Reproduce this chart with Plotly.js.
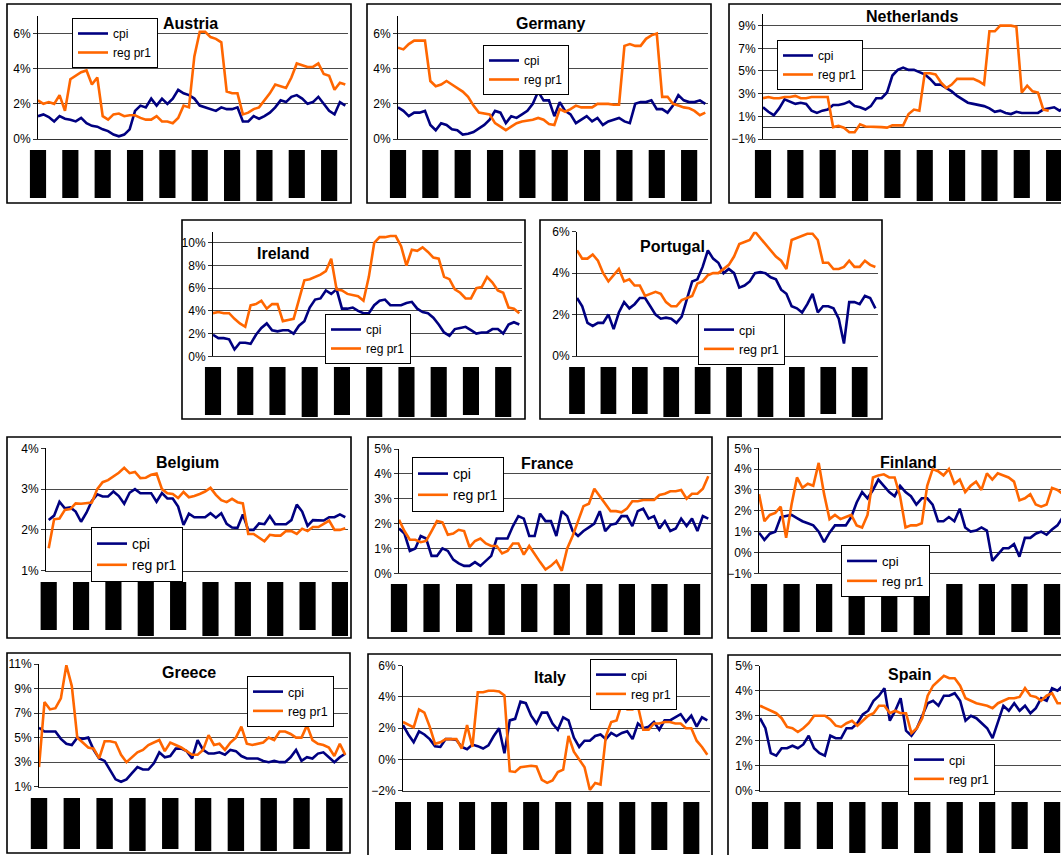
<!DOCTYPE html>
<html><head><meta charset="utf-8">
<script src="https://cdn.plot.ly/plotly-3.0.1.min.js"></script>
<style>html,body{margin:0;padding:0;overflow:hidden;background:#fff}#chart{width:1100px;height:855px}</style>
</head><body><div id="chart"></div>
<script>
// ---- data (percent, y-o-y), sampled every second month ----
const austriaCpi = [1.3,1.4,1.25,1.0,1.3,1.15,1.1,1.0,1.2,0.9,0.75,0.7,0.55,0.45,0.25,0.15,0.25,0.55,1.6,1.9,1.8,2.3,1.9,2.3,2.0,2.3,2.8,2.6,2.5,2.3,1.9,1.8,1.7,1.6,1.8,1.7,1.7,1.8,1.0,1.0,1.3,1.15,1.3,1.5,1.8,2.2,2.1,2.4,2.5,2.3,2.0,2.1,2.4,2.0,1.6,1.4,2.1,1.9];
const austriaReg = [2.2,2.0,2.1,2.0,2.5,1.6,3.4,3.6,3.8,3.9,3.1,3.5,1.3,1.1,1.4,1.45,1.3,1.35,1.35,1.2,1.1,1.1,1.3,1.0,1.0,0.9,1.2,1.9,1.8,4.7,6.1,6.1,5.8,5.7,5.5,2.7,2.6,2.6,1.4,1.5,1.7,1.8,2.2,2.6,3.1,3.0,2.9,3.5,4.3,4.2,4.1,4.1,4.3,3.7,3.6,2.8,3.2,3.1];
const germanyCpi = [1.8,1.6,1.3,1.5,1.5,1.6,0.8,0.5,0.9,0.8,0.55,0.5,0.25,0.3,0.4,0.6,0.8,1.1,1.6,1.5,0.9,1.3,1.2,1.4,1.6,2.0,2.7,2.2,2.2,1.3,2.1,1.6,1.4,0.9,1.1,1.3,1.0,1.2,0.8,1.0,1.1,1.2,1.0,0.9,2.0,2.1,2.1,2.2,1.7,1.7,1.5,1.9,2.5,2.2,2.1,2.1,2.2,2.0];
const germanyReg = [5.2,5.1,5.4,5.6,5.6,5.6,3.3,3.0,3.1,3.3,3.1,2.9,2.7,2.4,1.9,1.5,1.45,1.4,0.9,0.7,0.5,0.7,0.9,1.0,1.05,1.1,1.2,1.1,0.85,0.8,1.7,1.55,1.7,1.9,1.8,1.8,1.8,2.0,2.0,2.0,1.95,1.95,5.3,5.4,5.3,5.3,5.7,5.9,6.0,2.4,2.4,2.0,1.9,1.8,1.75,1.6,1.35,1.5];
const netherlandsCpi = [1.8,1.4,1.1,1.7,2.5,2.3,2.1,2.2,2.1,1.5,1.3,1.5,1.6,2.0,2.0,2.1,2.3,1.9,1.8,1.6,1.9,2.6,2.6,3.1,4.6,5.1,5.3,5.1,5.1,4.9,4.7,4.3,3.8,3.8,3.5,3.2,2.8,2.5,2.2,2.1,2.0,1.9,1.7,1.4,1.5,1.3,1.2,1.4,1.3,1.3,1.3,1.3,1.6,1.7,1.8,1.5,1.8];
const netherlandsReg = [2.6,2.7,2.6,2.6,2.7,2.7,2.8,2.6,2.6,2.7,2.7,2.7,2.7,0.05,0.15,0.0,-0.4,-0.4,0.3,0.1,0.1,0.1,0.05,0.0,0.2,0.2,0.2,1.2,1.6,1.5,4.8,4.8,4.7,4.0,3.5,3.8,4.3,4.3,4.3,4.3,4.1,3.8,8.5,8.5,9.0,9.0,9.0,8.9,3.1,3.7,3.2,3.1,1.6,1.5];
const irelandCpi = [1.9,1.6,1.6,1.5,0.6,1.2,1.2,1.1,1.9,2.5,2.9,2.3,2.2,2.3,2.3,2.0,2.7,3.1,4.3,5.0,5.1,5.8,5.5,5.9,4.2,4.2,4.3,4.0,3.8,3.8,4.5,4.9,5.0,4.5,4.5,4.5,4.7,4.8,4.2,3.9,3.8,3.4,2.8,2.1,1.8,2.4,2.5,2.6,2.3,2.0,2.1,2.1,2.4,2.4,2.0,2.8,3.0,2.8];
const irelandReg = [3.8,3.9,3.8,3.8,3.3,2.9,2.6,4.5,4.6,4.9,4.2,4.6,4.6,3.1,3.2,3.3,5.0,6.7,6.8,7.0,7.2,7.5,8.6,5.9,5.8,5.5,5.4,5.3,4.9,7.0,10.0,10.5,10.5,10.6,10.6,9.7,8.0,9.4,9.3,9.6,9.2,8.7,8.6,7.0,6.8,5.9,5.6,5.1,5.1,6.0,6.1,7.0,6.5,5.8,5.6,4.3,4.2,3.8];
const portugalCpi = [2.8,2.4,1.6,1.45,1.6,1.6,2.0,1.3,2.1,2.6,2.3,2.5,2.8,2.8,2.4,2.0,1.8,1.85,1.8,1.6,1.9,2.8,3.6,3.7,4.3,5.1,4.7,4.5,4.0,4.2,4.0,3.3,3.4,3.6,4.0,4.05,4.0,3.8,3.7,3.2,3.0,2.4,2.3,2.1,2.5,3.0,2.1,2.4,2.4,2.3,1.8,0.6,2.6,2.6,2.5,2.9,2.8,2.3];
const portugalReg = [5.1,4.7,4.7,4.9,4.6,4.0,3.6,3.9,4.2,3.6,3.7,3.4,3.4,2.9,3.0,3.1,3.0,2.6,2.4,2.4,2.7,2.8,2.9,3.5,3.6,3.9,4.0,4.0,4.2,4.4,4.8,5.4,5.5,5.6,6.0,5.7,5.4,5.1,4.8,4.6,4.2,5.6,5.7,5.8,5.9,5.9,5.6,4.5,4.5,4.2,4.2,4.3,4.6,4.3,4.3,4.6,4.4,4.3];
const belgiumCpi = [2.24,2.35,2.69,2.53,2.55,2.45,2.2,2.42,2.71,2.87,2.82,2.82,2.94,2.83,2.64,2.91,3.0,2.9,2.9,2.9,2.69,2.9,2.77,2.77,2.57,2.12,2.4,2.31,2.31,2.31,2.41,2.3,2.41,2.15,2.06,2.05,2.38,2.0,2.0,2.16,2.14,2.34,2.14,2.14,2.14,2.24,2.62,2.45,2.1,2.24,2.24,2.23,2.31,2.31,2.38,2.31];
const belgiumReg = [1.55,2.26,2.28,2.49,2.51,2.65,2.64,2.65,2.67,3.0,3.17,3.22,3.3,3.4,3.52,3.39,3.42,3.27,3.28,3.35,3.38,3.0,2.9,2.88,2.78,2.93,2.8,2.83,2.88,2.94,3.03,2.86,2.73,2.68,2.76,2.68,2.65,1.9,1.9,1.8,1.72,1.88,1.86,1.86,1.97,1.97,1.9,2.03,1.97,2.07,2.07,2.15,2.23,2.0,2.0,2.04];
const franceCpi = [1.8,1.6,0.9,1.0,1.5,1.4,0.7,0.7,1.0,0.9,0.55,0.4,0.3,0.3,0.45,0.3,0.5,0.7,1.4,1.4,1.4,1.9,2.3,2.2,1.5,1.5,2.4,2.1,2.1,1.5,2.5,2.3,1.7,1.5,1.7,1.85,2.0,2.5,1.7,1.95,2.0,2.3,2.3,1.9,2.5,2.6,2.2,2.3,1.8,2.1,1.7,1.8,2.2,1.9,2.2,1.7,2.3,2.2];
const franceReg = [2.15,1.7,1.35,1.35,1.25,1.3,1.7,2.1,2.05,1.55,1.6,1.75,1.7,1.05,1.3,1.4,1.2,1.1,1.1,0.8,0.9,1.2,1.2,0.75,1.1,0.75,0.45,0.15,0.3,0.5,0.1,1.0,1.5,2.1,2.7,2.8,3.4,3.1,2.8,2.5,2.5,2.45,2.6,2.9,2.9,2.95,2.95,2.95,3.15,3.2,3.3,3.3,3.35,3.0,3.2,3.2,3.4,3.9];
const finlandCpi = [0.95,0.6,0.9,1.0,1.7,1.75,1.8,1.65,1.5,1.4,1.3,1.0,0.5,0.95,1.3,1.3,1.3,1.7,2.4,2.9,2.6,3.0,3.5,3.2,2.9,2.7,3.2,2.9,2.7,2.3,2.6,2.6,2.3,1.5,1.5,1.7,1.5,2.1,1.2,1.0,1.05,1.2,1.05,-0.4,-0.1,0.2,0.2,0.4,-0.2,0.7,0.7,0.9,1.0,0.85,1.1,1.3,1.7];
const finlandReg = [2.8,1.5,1.8,1.9,2.2,0.7,2.3,3.6,3.1,3.3,3.2,4.3,2.8,1.6,1.8,1.6,1.7,1.8,1.3,1.2,1.8,3.6,3.7,3.75,3.6,3.6,2.7,1.2,1.3,1.3,1.4,3.2,4.0,3.9,3.7,4.0,3.3,3.5,2.9,3.2,3.4,3.0,3.8,3.5,3.8,3.7,3.6,3.4,2.5,2.6,2.8,2.3,2.2,2.3,3.1,3.0,2.8];
const greeceCpi = [5.8,5.5,5.5,5.5,4.9,4.5,4.4,5.0,4.9,5.0,4.0,3.3,3.1,2.4,1.6,1.4,1.6,2.1,2.6,2.4,2.4,2.9,3.8,3.4,3.5,4.1,4.1,3.9,3.3,4.8,4.0,3.7,3.7,3.8,3.6,4.0,3.9,3.5,3.3,3.3,3.3,3.1,3.0,3.1,3.0,3.0,3.4,4.0,3.1,3.4,3.3,3.7,3.8,3.4,3.0,3.4,3.7];
const greeceReg = [2.6,7.9,7.3,7.4,8.2,10.9,9.2,5.0,4.6,4.2,4.1,3.3,4.7,4.7,4.6,3.6,3.0,3.4,3.8,4.0,4.4,4.6,4.8,3.9,4.6,4.4,4.2,3.9,3.6,3.6,4.0,5.2,4.4,4.5,4.0,4.6,5.0,5.9,4.5,4.4,4.5,4.6,5.0,4.8,5.5,5.5,5.3,5.0,5.0,6.0,4.8,4.5,4.4,4.2,3.5,4.5,3.6];
const italyCpi = [2.2,1.6,1.1,1.8,1.6,1.3,0.85,0.8,1.3,1.3,1.25,0.8,0.65,0.95,0.85,0.7,0.9,1.5,2.0,0.4,2.5,2.6,3.7,3.6,2.8,2.3,3.0,3.0,2.3,1.9,2.7,2.5,1.4,0.8,1.2,1.2,1.5,1.6,1.3,1.7,1.5,1.7,1.8,1.3,2.3,2.0,2.1,2.4,1.9,2.5,2.5,2.7,2.9,2.4,2.8,2.1,2.7,2.5];
const italyReg = [2.4,2.2,2.05,3.2,3.0,2.1,1.0,1.1,1.3,1.3,1.3,0.7,2.2,0.8,4.3,4.3,4.4,4.4,4.35,4.1,-0.75,-0.8,-0.5,-0.45,-0.4,-0.45,-1.3,-1.5,-1.35,-0.8,-0.65,1.5,0.5,0.0,-0.5,-1.95,-1.5,-1.6,1.5,2.4,2.5,3.6,3.2,3.2,3.4,1.9,1.9,2.3,2.3,2.4,2.4,2.3,2.3,2.0,2.0,1.2,0.8,0.3];
const spainCpi = [2.9,2.5,1.5,1.4,1.7,1.7,1.8,1.7,1.85,2.2,1.7,1.5,1.4,2.2,2.1,2.1,2.5,2.5,2.7,3.05,3.2,3.6,3.8,4.1,2.8,3.2,3.7,2.4,2.2,2.5,3.0,3.5,3.6,3.4,3.8,3.8,3.9,3.6,2.8,3.0,2.9,2.7,2.5,2.1,2.8,3.4,3.2,3.5,3.2,3.4,3.1,3.3,3.7,3.6,4.1,4.0,4.2];
const spainReg = [3.4,3.3,3.2,3.1,2.9,2.55,2.5,2.35,2.5,2.7,3.0,3.0,3.0,2.85,2.6,2.55,2.7,2.8,2.6,2.8,3.0,3.1,3.4,3.4,3.1,3.2,3.1,3.1,2.3,2.5,2.9,3.8,4.2,4.4,4.6,4.5,4.5,4.2,3.7,3.6,3.5,3.45,3.4,3.3,3.5,3.6,3.7,3.7,3.75,4.1,3.8,3.75,3.6,3.8,3.9,3.5,3.5];

const countries = ['Austria','Germany','Netherlands','Ireland','Portugal','Belgium','France','Finland','Greece','Italy','Spain'];
const seriesNames = ['cpi','reg pr1'];
const cpiSeries = [austriaCpi,germanyCpi,netherlandsCpi,irelandCpi,portugalCpi,belgiumCpi,franceCpi,finlandCpi,greeceCpi,italyCpi,spainCpi];
const regSeries = [austriaReg,germanyReg,netherlandsReg,irelandReg,portugalReg,belgiumReg,franceReg,finlandReg,greeceReg,italyReg,spainReg];
// yearly tick labels (rendered as solid black blocks in the source)
const yearLabelCount = 10;
const labelLong = [0,0,0,1,0,1,1,1,0,1];

// ---- layout geometry (pixels) ----
const W = 1100, H = 855;
const geom = [
 {box:[7,4,351,203],   plot:[38,348,16,139],      yr:[0,7],   dt:2, t0:0,  xr:[0,115], x0:0, bars:[150,48,51], title:[190,23],  leg:[72,18,12]},
 {box:[367,4,711,203], plot:[398,708,16,139],     yr:[0,7],   dt:2, t0:0,  xr:[0,115], x0:0, bars:[150,48,51], title:[550,24],  leg:[483,45,12]},
 {box:[729,4,1078,203],plot:[763,1073,14.3,139],  yr:[-1,10], dt:2, t0:-1, xr:[0,115], x0:0, bars:[150,48,51], title:[912,17],  leg:[777,40,12]},
 {box:[182,220,525,419],plot:[213,522,231.5,356.3],yr:[0,11], dt:2, t0:0,  xr:[0,115], x0:0, bars:[367,48,50], title:[283,254], leg:[325,314,12]},
 {box:[540,220,882,419],plot:[577,878,231.7,356], yr:[0,6],   dt:2, t0:0,  xr:[0,115], x0:0, bars:[367,47,50], title:[672,246], leg:[698,314,12.5]},
 {box:[7,437,351,638], plot:[46,348,448.3,570.7], yr:[1,4],   dt:1, t0:1,  xr:[0,112], x0:1, bars:[582,48,54], title:[187,462], leg:[91,527,14]},
 {box:[368,437,712,638],plot:[399,711,449,573.3], yr:[0,5],   dt:1, t0:0,  xr:[0,115], x0:0, bars:[584,48,51], title:[547,463], leg:[412,457,14]},
 {box:[728,437,1080,638],plot:[759,1071,448.3,573.3],yr:[-1,5],dt:1,t0:-1, xr:[0,115], x0:0, bars:[584,48,51], title:[908,462], leg:[841,545,13]},
 {box:[7,653,350,853], plot:[39,348,664,786.7],   yr:[1,11],  dt:2, t0:1,  xr:[0,113], x0:0, bars:[798,51,53], title:[189,672], leg:[247,676,12.5]},
 {box:[368,654,712,860],plot:[403,710,665.7,790.7],yr:[-2,6], dt:2, t0:-2, xr:[0,115], x0:0, bars:[802,48,52], title:[550,677], leg:[590,659,12.5]},
 {box:[728,655,1080,860],plot:[760,1071,665.7,790.7],yr:[0,5], dt:1, t0:0,  xr:[0,115], x0:0, bars:[802,47,51], title:[910,674], leg:[908,744,12.5]}
];
const BAR_EXT = 14; // px the label strip extends beyond the plot on each side

const FONT = 'Liberation Sans, Arial, sans-serif';
const traces = [], shapes = [], annotations = [];
const layout = {
  width: W, height: H, margin:{l:0,r:0,t:0,b:0},
  paper_bgcolor:'#fff', plot_bgcolor:'rgba(0,0,0,0)',
  font:{family:FONT, color:'#000'}, showlegend:true, hovermode:false
};
const px = v => v / W, py = v => 1 - v / H;

countries.forEach((name, i) => {
  const g = geom[i];
  const n = i + 1, nb = i + 12;
  const xId = n === 1 ? 'x' : 'x' + n, yId = n === 1 ? 'y' : 'y' + n;
  const xbId = 'x' + nb, ybId = 'y' + nb;
  const xKey = n === 1 ? 'xaxis' : 'xaxis' + n, yKey = n === 1 ? 'yaxis' : 'yaxis' + n;
  const xbKey = 'xaxis' + nb, ybKey = 'yaxis' + nb;
  const legKey = n === 1 ? 'legend' : 'legend' + n;
  const cpi = cpiSeries[i], reg = regSeries[i];
  traces.push({type:'scatter', mode:'lines', name:seriesNames[0], x:cpi.map((_, k) => g.x0 + 2*k), y:cpi,
    xaxis:xId, yaxis:yId, legend:legKey, line:{color:'#000080', width:2.6}});
  traces.push({type:'scatter', mode:'lines', name:seriesNames[1], x:reg.map((_, k) => g.x0 + 2*k), y:reg,
    xaxis:xId, yaxis:yId, legend:legKey, line:{color:'#FF6600', width:2.6}});
  const labX = Array.from({length:yearLabelCount}, (_, j) => g.x0 + 12*j);
  traces.push({type:'bar', x:labX, y:labelLong.map(f => f ? g.bars[2] : g.bars[1]), width:6,
    marker:{color:'#000', line:{width:0}}, xaxis:xbId, yaxis:ybId, showlegend:false, hoverinfo:'skip'});

  layout[xKey] = {domain:[px(g.plot[0]), px(g.plot[1])], range:g.xr, anchor:yId, showgrid:false, zeroline:false,
    showticklabels:false, ticks:'', showline:true, linecolor:'#333', linewidth:1, fixedrange:true};
  layout[yKey] = {domain:[py(g.plot[3]), py(g.plot[2])], range:g.yr, anchor:xId, tickmode:'linear', tick0:g.t0, dtick:g.dt,
    ticksuffix:'%', showgrid:true, gridcolor:'#4a4a4a', gridwidth:1, zeroline:true, zerolinecolor:'#333', zerolinewidth:1,
    showline:true, linecolor:'#000', linewidth:1, ticks:'outside', ticklen:4, tickcolor:'#333',
    tickfont:{family:FONT, size:12, color:'#000'}, fixedrange:true};
  // label strip: same month scale, widened so blocks at the edges are not clipped
  const ppm = (g.plot[1] - g.plot[0]) / (g.xr[1] - g.xr[0]);
  const ext = BAR_EXT / ppm;
  layout[xbKey] = {domain:[px(g.plot[0] - BAR_EXT), px(g.plot[1] + BAR_EXT)], range:[g.xr[0] - ext, g.xr[1] + ext],
    anchor:ybId, visible:false, fixedrange:true};
  layout[ybKey] = {domain:[py(g.bars[0] + g.bars[2]), py(g.bars[0])], range:[g.bars[2], 0], anchor:xbId, visible:false, fixedrange:true};

  layout[legKey] = {x:px(g.leg[0]), y:py(g.leg[1]), xanchor:'left', yanchor:'top', bgcolor:'#fff', bordercolor:'#000', borderwidth:1,
    font:{family:FONT, size:g.leg[2], color:'#000'}, tracegroupgap:0, itemclick:false, itemdoubleclick:false};

  shapes.push({type:'rect', xref:'paper', yref:'paper', x0:px(g.box[0]), x1:px(g.box[2]), y0:py(g.box[3]), y1:py(g.box[1]),
    line:{color:'#000', width:1.6}, fillcolor:'rgba(0,0,0,0)', layer:'below'});
  annotations.push({xref:'paper', yref:'paper', x:px(g.title[0]), y:py(g.title[1]), xanchor:'center', yanchor:'middle',
    text:'<b>' + name + '</b>', showarrow:false, font:{family:FONT, size:16, color:'#000'}});
});
layout.shapes = shapes;
layout.annotations = annotations;
Plotly.newPlot('chart', traces, layout, {staticPlot:true, displayModeBar:false});
</script></body></html>
